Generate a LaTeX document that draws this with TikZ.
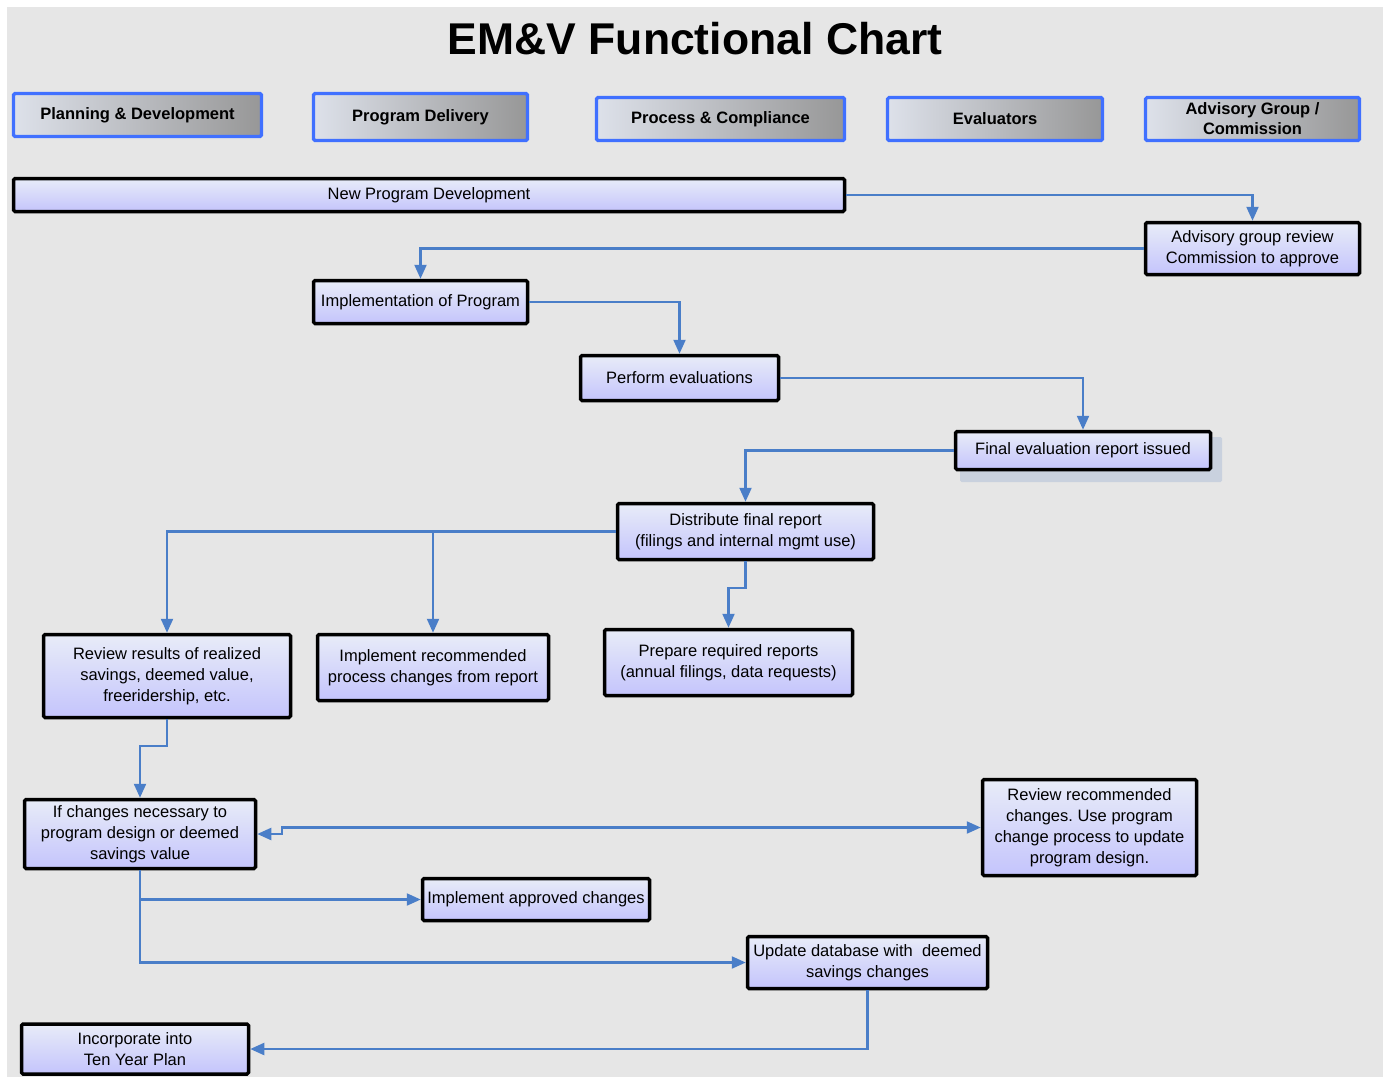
\documentclass[tikz,border=0pt]{standalone}
\usepackage{fontspec}
\setmainfont{Liberation Sans}
\usetikzlibrary{arrows.meta,calc}
\definecolor{bg}{HTML}{E6E6E6}
\definecolor{lnblue}{HTML}{4A7EC8}
\definecolor{hdblue}{HTML}{4070FF}
\definecolor{hdlight}{HTML}{DDE1EA}
\definecolor{hdmid}{HTML}{B4B4B6}
\definecolor{hddark}{HTML}{979797}
\definecolor{pclight}{HTML}{E8ECF8}
\definecolor{pcdark}{HTML}{C4C4FC}
\definecolor{shadowc}{HTML}{C9D1DE}
\tikzset{
  hdr/.style={draw=hdblue, line width=3.2pt, rounded corners=1.5pt,
    left color=hdlight, middle color=hdmid, right color=hddark, align=center, inner sep=0pt,
    font=\fontsize{16.5}{20}\selectfont\bfseries},
  pbox/.style={draw=black, line width=3.5pt, rounded corners=1.5pt,
    top color=pclight, bottom color=pcdark, align=center, inner sep=0pt,
    font=\fontsize{16.5}{21}\selectfont},
  conn/.style={draw=lnblue, line width=2.2pt, -{Triangle[length=14pt,width=12pt]}},
  conn2/.style={draw=lnblue, line width=2.2pt, {Triangle[length=14pt,width=12pt]}-{Triangle[length=14pt,width=12pt]}}
}
\frenchspacing
\begin{document}
\begin{tikzpicture}[x=1pt,y=-1pt]
\useasboundingbox (0,0) rectangle (1390,1077);
\fill[white] (0,0) rectangle (1390,1077);
\fill[bg] (7,7) rectangle (1383,1077);

\node[font=\fontsize{44.5}{50}\selectfont\bfseries] (title) at (695,39) {EM\&V Functional Chart};

% header boxes
\node[hdr, minimum width=248pt, minimum height=43pt] (h1) at (137.5,115) {Planning \& Development};
\node[hdr, minimum width=214pt, minimum height=47pt] (h2) at (420.5,117) {Program Delivery};
\node[hdr, minimum width=248pt, minimum height=43pt] (h3) at (720.5,119) {Process \& Compliance};
\node[hdr, minimum width=215pt, minimum height=43pt] (h4) at (995,119) {Evaluators};
\node[hdr, minimum width=214pt, minimum height=43pt] (h5) at (1252.5,119) {Advisory Group /\\Commission};

% shadow of final report
\fill[shadowc, rounded corners=1.5pt] (960,437) rectangle (1222,482);

% process boxes
\node[pbox, minimum width=831pt, minimum height=33pt] (npd) at (429,195) {New Program Development};
\node[pbox, minimum width=214pt, minimum height=52pt] (adv) at (1252.5,248.5) {Advisory group review\\Commission to approve};
\node[pbox, minimum width=214pt, minimum height=43pt] (impl) at (420.5,302) {Implementation of Program};
\node[pbox, minimum width=198pt, minimum height=45pt] (perf) at (679.5,378) {Perform evaluations};
\node[pbox, minimum width=255pt, minimum height=38pt] (final) at (1083,450.5) {Final evaluation report issued};
\node[pbox, minimum width=256pt, minimum height=56pt] (dist) at (745.5,531.5) {Distribute final report\\(filings and internal mgmt use)};
\node[pbox, minimum width=247pt, minimum height=83pt] (revres) at (167,676) {Review results of realized\\savings, deemed value,\\freeridership, etc.};
\node[pbox, minimum width=231pt, minimum height=66pt] (implrec) at (433,667.5) {Implement recommended\\process changes from report};
\node[pbox, minimum width=248pt, minimum height=66pt] (prep) at (728.5,662.5) {Prepare required reports\\(annual filings, data requests)};
\node[pbox, minimum width=231pt, minimum height=69pt] (ifch) at (140,834) {If changes necessary to\\program design or deemed\\savings value};
\node[pbox, minimum width=214pt, minimum height=96pt] (revrec) at (1089.5,827.5) {Review recommended\\changes. Use program\\change process to update\\program design.};
\node[pbox, minimum width=227pt, minimum height=42pt] (implapp) at (536,899.5) {Implement approved changes};
\node[pbox, minimum width=240pt, minimum height=52pt] (upd) at (867.5,962.5) {Update database with\ \ deemed\\savings changes};
\node[pbox, minimum width=227pt, minimum height=50pt] (inc) at (135,1049) {Incorporate into\\Ten Year Plan};

% connectors
\draw[conn] (npd.east) -| (adv.north);
\draw[conn] (adv.west) -| (impl.north);
\draw[conn] (impl.east) -| (perf.north);
\draw[conn] (perf.east) -| (final.north);
\draw[conn] (final.west) -| (dist.north);
\draw[conn] (dist.west) -| (revres.north);
\draw[conn] (dist.west -| implrec.north) -- (implrec.north);
\draw[conn] (dist.south) -- ++(0,27) -| (prep.north);
\draw[conn] (revres.south) -- ++(0,27) -| (ifch.north);
\draw[conn2] (ifch.east) -- ++(25,0) |- (revrec.west);
\draw[conn] (ifch.south) |- (implapp.west);
\draw[conn] (ifch.south) |- (upd.west);
\draw[conn] (upd.south) |- (inc.east);
\end{tikzpicture}
\end{document}
